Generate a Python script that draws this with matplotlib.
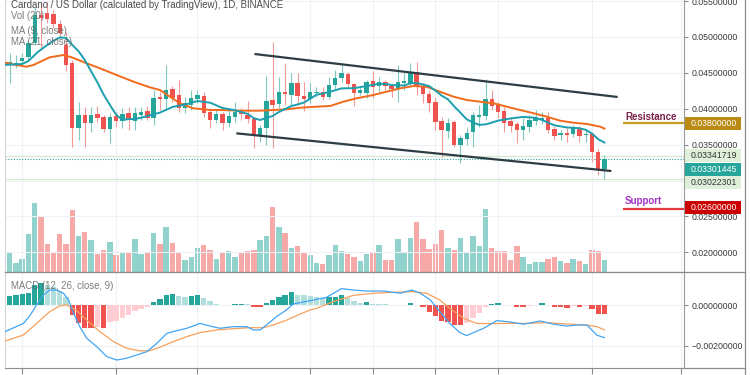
import numpy as np
import matplotlib
matplotlib.use("Agg")
import matplotlib.pyplot as plt
from matplotlib.patches import Rectangle
from matplotlib.lines import Line2D
from matplotlib.ticker import FuncFormatter

plt.rcParams['font.family'] = ['Liberation Sans', 'DejaVu Sans']

# ---- daily candles (ADA/USD) ----
opens = [0.04609, 0.04604, 0.04604, 0.04670, 0.04716, 0.04911, 0.05305, 0.05328, 0.05319, 0.05180,
         0.04888, 0.04632, 0.03737, 0.03913, 0.03806, 0.03927, 0.03881, 0.03714, 0.03899, 0.03834,
         0.03936, 0.03834, 0.03913, 0.03973, 0.03867, 0.04168, 0.04131, 0.04270, 0.04192, 0.04006,
         0.04052, 0.04131, 0.04178, 0.03959, 0.03843, 0.03927, 0.03806, 0.03890, 0.03959, 0.03913,
         0.03853, 0.03635, 0.03727, 0.04122, 0.04061, 0.04238, 0.04191, 0.04363, 0.04177, 0.04131,
         0.04215, 0.04238, 0.04168, 0.04331, 0.04423, 0.04479, 0.04340, 0.04224, 0.04224, 0.04386,
         0.04317, 0.04377, 0.04321, 0.04275, 0.04363, 0.04354, 0.04516, 0.04317, 0.04201, 0.04099,
         0.03830, 0.03695, 0.03820, 0.03496, 0.03574, 0.03681, 0.03890, 0.03904, 0.04136, 0.04052,
         0.03969, 0.03834, 0.03783, 0.03704, 0.03751, 0.03830, 0.03844, 0.03867, 0.03714, 0.03630,
         0.03667, 0.03649, 0.03737, 0.03630, 0.03649, 0.03403, 0.03157]
highs = [0.04679, 0.04772, 0.04748, 0.04772, 0.04957, 0.05412, 0.05468, 0.05491, 0.05375, 0.05236,
         0.05073, 0.04679, 0.04099, 0.04029, 0.04029, 0.04038, 0.03913, 0.03936, 0.03959, 0.04006,
         0.04029, 0.04029, 0.04029, 0.04038, 0.04261, 0.04238, 0.04609, 0.04317, 0.04400, 0.04168,
         0.04261, 0.04261, 0.04238, 0.04006, 0.03983, 0.03959, 0.03983, 0.04099, 0.04006, 0.04108,
         0.03890, 0.03774, 0.04456, 0.04934, 0.04447, 0.04632, 0.04493, 0.04493, 0.04377, 0.04363,
         0.04307, 0.04307, 0.04447, 0.04539, 0.04632, 0.04516, 0.04363, 0.04317, 0.04400, 0.04530,
         0.04447, 0.04400, 0.04354, 0.04609, 0.04502, 0.04632, 0.04656, 0.04354, 0.04261, 0.04168,
         0.03890, 0.03867, 0.03844, 0.03635, 0.03751, 0.03960, 0.04052, 0.04414, 0.04261, 0.04099,
         0.04029, 0.03890, 0.03820, 0.03867, 0.03913, 0.03983, 0.03960, 0.03960, 0.03760, 0.03704,
         0.03728, 0.03774, 0.03760, 0.03704, 0.03681, 0.03435, 0.03356]
lows = [0.04563, 0.04354, 0.04563, 0.04632, 0.04679, 0.04888, 0.04818, 0.05189, 0.05120, 0.04980,
        0.04530, 0.03472, 0.03565, 0.03472, 0.03681, 0.03820, 0.03681, 0.03528, 0.03751, 0.03728,
        0.03704, 0.03704, 0.03844, 0.03844, 0.03774, 0.03983, 0.03983, 0.04099, 0.03959, 0.03936,
        0.03983, 0.04076, 0.03890, 0.03727, 0.03797, 0.03704, 0.03741, 0.03820, 0.03843, 0.03797,
        0.03449, 0.03542, 0.03495, 0.03449, 0.04006, 0.04052, 0.04052, 0.04052, 0.03973, 0.04075,
        0.04168, 0.04122, 0.04131, 0.04261, 0.04377, 0.04307, 0.04038, 0.04191, 0.04145, 0.04145,
        0.04215, 0.04261, 0.04168, 0.04099, 0.04261, 0.04308, 0.04192, 0.04076, 0.03960, 0.03704,
        0.03333, 0.03588, 0.03472, 0.03240, 0.03496, 0.03472, 0.03751, 0.03844, 0.03983, 0.03867,
        0.03681, 0.03681, 0.03519, 0.03565, 0.03681, 0.03774, 0.03788, 0.03658, 0.03565, 0.03565,
        0.03542, 0.03612, 0.03542, 0.03542, 0.03264, 0.03078, 0.03022]
closes = [0.04642, 0.04656, 0.04632, 0.04702, 0.04911, 0.05305, 0.05259, 0.05245, 0.05180, 0.05050,
          0.04609, 0.03737, 0.03913, 0.03806, 0.03913, 0.03867, 0.03714, 0.03881, 0.03834, 0.03927,
          0.03844, 0.03936, 0.03959, 0.03867, 0.04145, 0.04131, 0.04261, 0.04145, 0.04006, 0.04076,
          0.04145, 0.04192, 0.03945, 0.03843, 0.03927, 0.03806, 0.03899, 0.03959, 0.03927, 0.03853,
          0.03644, 0.03737, 0.04113, 0.04052, 0.04238, 0.04205, 0.04354, 0.04177, 0.04131, 0.04238,
          0.04238, 0.04168, 0.04331, 0.04423, 0.04493, 0.04340, 0.04215, 0.04261, 0.04377, 0.04307,
          0.04377, 0.04321, 0.04275, 0.04377, 0.04386, 0.04502, 0.04308, 0.04201, 0.04085, 0.03820,
          0.03704, 0.03806, 0.03496, 0.03588, 0.03667, 0.03913, 0.03913, 0.04136, 0.04043, 0.03960,
          0.03797, 0.03760, 0.03704, 0.03760, 0.03844, 0.03867, 0.03867, 0.03704, 0.03621, 0.03667,
          0.03630, 0.03742, 0.03621, 0.03649, 0.03403, 0.03148, 0.03301]
# volume, millions
volumes = [41, 61, 28, 39, 113, 206, 164, 84, 61, 113,
           84, 186, 108, 119, 96, 53, 66, 90, 51, 56,
           56, 99, 55, 61, 116, 84, 135, 87, 60, 37,
           46, 73, 81, 66, 39, 56, 64, 44, 60, 64,
           66, 95, 108, 194, 135, 116, 73, 79, 58, 51,
           28, 24, 51, 82, 63, 55, 46, 33, 53, 58,
           80, 37, 37, 98, 60, 102, 151, 98, 69, 84,
           126, 71, 66, 102, 60, 108, 78, 189, 73, 64,
           62, 35, 79, 46, 24, 30, 30, 39, 46, 33,
           28, 39, 33, 24, 66, 62, 37]

# moving averages (read at candle positions)
ma9_x = [0, 3, 4, 5.5, 7, 8, 9, 10, 11, 12, 13, 14, 15, 16, 17, 18, 19, 20, 21, 22,
         25, 27, 29, 31, 33, 35, 37, 39, 40, 41, 42, 43, 44, 45, 46, 47, 48, 49, 50, 52,
         54, 56, 58, 60, 61, 62, 64, 65, 66, 67, 68, 69, 70, 71, 72, 73, 74, 75, 76, 77,
         78, 79, 81, 83, 85, 86, 87, 88, 90, 92, 93, 94, 95, 96]
ma9_y = [0.04609, 0.04623, 0.04664, 0.04790, 0.04887, 0.04947, 0.04992, 0.04986, 0.04888, 0.04801,
         0.04678, 0.04523, 0.04368, 0.04198, 0.04053, 0.03918, 0.03843, 0.03855, 0.03857, 0.03875,
         0.03946, 0.04024, 0.04057, 0.04107, 0.04084, 0.04010, 0.03978, 0.03929, 0.03868, 0.03843,
         0.03873, 0.03898, 0.03954, 0.03996, 0.04038, 0.04059, 0.04086, 0.04138, 0.04194, 0.04231,
         0.04283, 0.04286, 0.04316, 0.04347, 0.04345, 0.04329, 0.04322, 0.04354, 0.04358, 0.04338,
         0.04315, 0.04252, 0.04182, 0.04131, 0.04032, 0.03944, 0.03852, 0.03808, 0.03776, 0.03781,
         0.03806, 0.03834, 0.03864, 0.03886, 0.03873, 0.03844, 0.03806, 0.03769, 0.03739, 0.03728,
         0.03706, 0.03655, 0.03575, 0.03529]
ma21_x = [0.3, 2, 3.7, 4.8, 7.4, 9.6, 10.9, 13.3, 15.4, 18.1, 20.8, 23.4, 25, 26.6, 28.2, 30.3,
          33, 34.6, 37.8, 41, 43.1, 45.3, 47.4, 50, 52.2, 54.3, 56.4, 59.1, 61.2, 63.4, 65.5,
          67.6, 69.7, 71.9, 74, 76.1, 78.3, 80.4, 82.5, 84.7, 86.8, 88.9, 91, 93.2, 95.3, 96]
ma21_y = [0.04641, 0.04609, 0.04585, 0.04609, 0.04716, 0.04748, 0.04716, 0.04632, 0.04563, 0.04469,
          0.04376, 0.04298, 0.04260, 0.04167, 0.04075, 0.04006, 0.03982, 0.03982, 0.03972, 0.03972,
          0.03982, 0.03992, 0.04014, 0.04028, 0.04038, 0.04098, 0.04145, 0.04191, 0.04237, 0.04284,
          0.04316, 0.04306, 0.04237, 0.04167, 0.04121, 0.04098, 0.04075, 0.04028, 0.03982, 0.03936,
          0.03889, 0.03833, 0.03805, 0.03787, 0.03750, 0.03723]

# MACD (12, 26, close, 9)
macd_x = [0.3, 3.2, 4.3, 5.3, 6.4, 7.4, 8.5, 9.6, 10.4, 11.2, 12.2, 13.3, 14.9, 16.5, 18.1,
          19.7, 21.3, 22.9, 24.5, 26.1, 27.1, 29.3, 31.4, 33.0, 34.6, 36.7, 38.9, 39.9, 41.0,
          42.0, 43.6, 45.2, 46.3, 47.4, 49.5, 51.6, 54.0, 55.9, 58.0, 60.7, 63.4, 65.2, 66.6,
          68.2, 69.7, 71.3, 72.9, 74.0, 75.1, 76.7, 78.8, 80.9, 83.1, 85.7, 87.9, 90.0, 91.6,
          93.2, 94.8, 96.0]
macd_line = [-0.00129, -0.00089, -0.00048, 0.00002, 0.00051, 0.00075, 0.00075, 0.00059, 0.00026,
             -0.00039, -0.00105, -0.00162, -0.00203, -0.00252, -0.00269, -0.00260, -0.00244,
             -0.00228, -0.00187, -0.00138, -0.00129, -0.00113, -0.00089, -0.00102, -0.00113,
             -0.00105, -0.00105, -0.00121, -0.00121, -0.00097, -0.00056, -0.00023, 0.00007,
             0.00013, 0.00026, 0.00039, 0.00082, 0.00075, 0.00070, 0.00070, 0.00059, 0.00075,
             0.00059, 0.00026, -0.00031, -0.00089, -0.00134, -0.00149, -0.00134, -0.00113,
             -0.00075, -0.00082, -0.00093, -0.00077, -0.00093, -0.00102, -0.00097, -0.00097,
             -0.00147, -0.00159]
signal_x = [0.3, 3.2, 5.3, 7.4, 9.0, 10.1, 11.7, 13.3, 15.4, 17.6, 19.7, 21.8, 23.4, 25.0,
            27.1, 29.3, 31.4, 34.1, 36.7, 39.4, 41.5, 43.1, 45.3, 47.4, 49.0, 50.0, 52.7,
            55.9, 59.1, 62.3, 65.5, 67.6, 69.7, 71.3, 73.5, 75.6, 77.7, 80.4, 83.6, 86.8,
            90.0, 93.2, 94.8, 96.0]
signal_line = [-0.00175, -0.00146, -0.00089, -0.00031, -0.00003, 0.00002, -0.00026, -0.00072,
               -0.00129, -0.00179, -0.00211, -0.00224, -0.00223, -0.00206, -0.00179, -0.00154,
               -0.00134, -0.00121, -0.00115, -0.00110, -0.00110, -0.00097, -0.00072, -0.00043,
               -0.00023, -0.00015, 0.00018, 0.00049, 0.00059, 0.00064, 0.00067, 0.00059,
               0.00026, -0.00015, -0.00064, -0.00089, -0.00090, -0.00089, -0.00089, -0.00085,
               -0.00092, -0.00097, -0.00105, -0.00121]
hist = [0.00041, 0.00044, 0.00049, 0.00056, 0.00062, 0.00102, 0.00110, 0.00098, 0.00090, 0.00069,
        0.00041, -0.00049, -0.00085, -0.00111, -0.00113, -0.00108, -0.00111, -0.00082, -0.00079, -0.00062,
        -0.00049, -0.00029, -0.00016, -0.00008, 0.00016, 0.00033, 0.00049, 0.00054, 0.00044, 0.00043,
        0.00046, 0.00049, 0.00034, 0.00021, 0.00008, 0.00002, 0.00001, 0.00008, 0.00008, 0.00005,
        -0.00007, -0.00009, 0.00013, 0.00026, 0.00043, 0.00051, 0.00064, 0.00051, 0.00049, 0.00046,
        0.00043, 0.00034, 0.00039, 0.00043, 0.00049, 0.00034, 0.00021, 0.00013, 0.00015, 0.00008,
        0.00007, 0.00005, 0.00002, 0.000005, 0.00003, 0.00010, 0.000005, -0.00010, -0.00031, -0.00052,
        -0.00075, -0.00080, -0.00097, -0.00098, -0.00085, -0.00064, -0.00036, -0.00007, 0.00008, 0.00010,
        0.00003, -0.000005, -0.00008, -0.00009, -0.00005, 0.00003, 0.00010, 0.00002, -0.00008, -0.00009,
        -0.00011, -0.00005, -0.00007, -0.00003, -0.00018, -0.00041, -0.00042]

# drawings
channel_top = ([40.1, 98.1], [0.04762, 0.04163])
channel_bottom = ([37.2, 97.1], [0.03657, 0.03132])
resistance = 0.038
support = 0.026
last_price = 0.03301445
level_hi = 0.03341719
level_lo = 0.03022301
date_grid = [3, 18, 31, 49, 59, 69, 79, 94, 108.3]
price_ticks = [0.020, 0.025, 0.030, 0.035, 0.040, 0.045, 0.050, 0.055]
macd_ticks = [-0.002, 0.0]

GREEN, RED = '#26a69a', '#ef5350'

o = np.array(opens); h = np.array(highs); l = np.array(lows); c = np.array(closes)
idx = np.arange(len(c))
up = c >= o

W, H = 750, 375
fig = plt.figure(figsize=(7.5, 3.75), dpi=100)
fig.patch.set_facecolor('white')

def fx(px):
    return px / W

def fy(py):
    return 1 - py / H

ax = fig.add_axes([fx(5), fy(272), fx(684) - fx(5), fy(0) - fy(272)])
axm = fig.add_axes([fx(5), fy(368), fx(684) - fx(5), fy(272) - fy(368)], sharex=ax)
axv = ax.twinx()
ax.set_zorder(axv.get_zorder() + 1)
ax.patch.set_visible(False)

# volume
vol_col = np.where(up, '#92d2cc', '#f7a9a7')
axv.bar(idx, volumes, width=0.86, color=vol_col, linewidth=0)
axv.set_ylim(0, 816)
axv.set_yticks([])
for s in axv.spines.values():
    s.set_visible(False)

# candles
wick_col = np.where(up, '#7fc9c1', '#f39a98')
body_col = np.where(up, GREEN, RED)
ax.vlines(idx, l, h, colors=wick_col, lw=0.8, zorder=2)
ax.bar(idx, np.maximum(np.abs(c - o), 0.00008), bottom=np.minimum(o, c), width=0.7,
       color=body_col, linewidth=0, zorder=3)

ax.plot(ma21_x, ma21_y, color='#f26a1b', lw=1.4, zorder=4)
ax.plot(ma9_x, ma9_y, color='#1c9fae', lw=1.4, zorder=4)

ax.plot(*channel_top, color='#2e3d44', lw=1.6, zorder=5, solid_capstyle='butt')
ax.plot(*channel_bottom, color='#2e3d44', lw=1.6, zorder=5, solid_capstyle='butt')

ax.axhline(level_hi, color='#d4ead0', lw=0.9, zorder=1)
ax.axhline(level_lo, color='#d4ead0', lw=0.9, zorder=1)
ax.axhline(last_price, color=GREEN, lw=0.8, ls=(0, (1, 1.5)), zorder=1)

ax.hlines(resistance, 98.9, 108.7, color='#c59b22', lw=1.6, zorder=5)
ax.text(99.3, resistance + 0.00088, 'Resistance', color='#7b1f4b', fontsize=7,
        fontweight='bold', va='center', zorder=6)
ax.hlines(support, 98.9, 108.7, color='#e03c3c', lw=1.6, zorder=5)
ax.text(99.3, support + 0.00112, 'Support', color='#a232c2', fontsize=7,
        fontweight='bold', va='center', zorder=6)

ax.set_xlim(0.256, 108.7)
ax.set_ylim(0.017256, 0.05514)

fmt = FuncFormatter(lambda v, p: f'{v:.8f}'.replace('-', '\u2212'))
for a, ticks in ((ax, price_ticks), (axm, macd_ticks)):
    a.yaxis.tick_right()
    a.set_yticks(ticks)
    a.yaxis.set_major_formatter(fmt)
    a.tick_params(axis='y', length=3, width=0.8, color='#8a8a8a', labelsize=6.3,
                  labelcolor='#3a3a3a', pad=2.5)
    a.set_xticks(date_grid)
    a.grid(True, color='#eef1f5', lw=0.8)
    a.set_axisbelow(True)
    for side in ('top',):
        a.spines[side].set_visible(False)
    a.spines['right'].set_color('#9a9a9a')
    a.spines['left'].set_color('#d6d6d6')
    a.spines['bottom'].set_color('#8c8c8c')

ax.tick_params(axis='x', length=0, labelbottom=False)
axm.tick_params(axis='x', length=4, color='#8c8c8c', labelbottom=False)

# MACD pane
hist_col = []
for i, v in enumerate(hist):
    prev = hist[i - 1] if i > 0 else -1
    if v >= 0:
        hist_col.append('#26a69a' if v >= prev else '#b2dfdb')
    else:
        hist_col.append('#ef5350' if v < prev else '#ffcdd2')
axm.bar(idx, hist, width=0.85, color=hist_col, linewidth=0, zorder=2)
axm.plot(signal_x, signal_line, color='#f9a05a', lw=0.9, zorder=3)
axm.plot(macd_x, macd_line, color='#42a5f5', lw=0.9, zorder=3)
axm.set_ylim(-0.003081, 0.001636)

# frame lines
fig.add_artist(Line2D([fx(5), fx(745)], [fy(272), fy(272)], color='#8c8c8c', lw=0.9))
fig.add_artist(Line2D([fx(684), fx(745)], [fy(368), fy(368)], color='#8c8c8c', lw=0.9))
fig.add_artist(Line2D([fx(745), fx(745)], [0, 1], color='#8c8c8c', lw=0.9))

# legend texts
fig.text(fx(11), fy(5), 'Cardano / US Dollar (calculated by TradingView), 1D, BINANCE',
         fontsize=6.9, color='#4a4a4a', va='center')
for ty, t in ((16, 'Vol (20)'), (31, 'MA (9, close)'), (42, 'MA (21, close)')):
    fig.text(fx(11), fy(ty), t, fontsize=6.9, color='#666666', alpha=0.85, va='center')
fig.text(fx(11), fy(286), 'MACD (12, 26, close, 9)', fontsize=6.9, color='#666666',
         alpha=0.85, va='center')

# price tags on the axis
def price_tag(price, face, color, shift=0):
    yp = ax.transData.transform((0, price))[1] / H - shift / H
    fig.add_artist(Rectangle((fx(684.5), yp - 6.5 / H), 56 / W, 13 / H, transform=fig.transFigure,
                             facecolor=face, edgecolor='none', zorder=5))
    fig.text(fx(690.5), yp, f'{price:.8f}', fontsize=6.3, color=color, va='center', zorder=6)

price_tag(resistance, '#b98b12', 'white')
price_tag(level_hi, '#dff0da', '#333333')
price_tag(last_price, GREEN, 'white', shift=10.4)
price_tag(level_lo, '#dff0da', '#333333', shift=3.8)
price_tag(support, '#cc0000', 'white', shift=-1.8)

fig.savefig('out.png', dpi=100)
